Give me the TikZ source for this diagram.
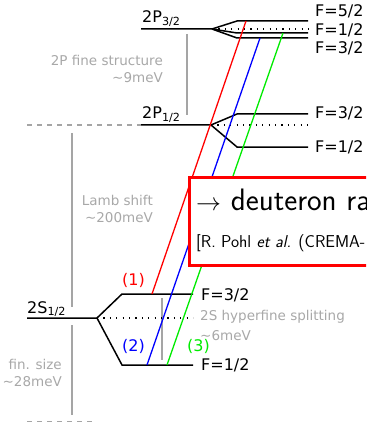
\documentclass[tikz,border=0pt]{standalone}
\usepackage{fontspec}
\setmainfont{DejaVu Sans}
\definecolor{lbl}{RGB}{168,168,168}
\definecolor{gline}{RGB}{165,165,165}
\definecolor{tgreen}{RGB}{0,235,0}
\tikzset{
  levelline/.style={line width=1.5pt, black},
  hfsdots/.style={line width=1.2pt, black, dash pattern=on 1.2pt off 5.2pt},
  trans/.style={line width=1.3pt},
  glab/.style={text=lbl, font=\fontsize{13.5}{16}\selectfont, inner sep=0pt},
  flab/.style={font=\fontsize{16}{19}\selectfont, inner sep=0pt},
  gvert/.style={gline, line width=1.2pt},
  gdash/.style={gline, line width=1.2pt, dash pattern=on 5pt off 5pt}
}
\begin{document}
\begin{tikzpicture}[x=1pt,y=-1pt]
\clip (0,0) rectangle (366,422);
% --- coordinates: 2P3/2
\coordinate (A0) at (141,29);  \coordinate (A1) at (212,29);
\coordinate (A52l) at (237,21); \coordinate (A52r) at (308,21);
\coordinate (A12l) at (237,33); \coordinate (A12r) at (308,33);
\coordinate (A32l) at (237,38); \coordinate (A32r) at (308,38);
\coordinate (Ad) at (310,29);
% 2P1/2
\coordinate (B0) at (141,125); \coordinate (B1) at (211,125);
\coordinate (B32l) at (237,114); \coordinate (B32r) at (308,114);
\coordinate (B12l) at (237,147); \coordinate (B12r) at (308,147);
\coordinate (Bd) at (310,125);
% 2S1/2
\coordinate (C0) at (27,318); \coordinate (C1) at (97,318);
\coordinate (C32l) at (122,294); \coordinate (C32r) at (193,294);
\coordinate (C12l) at (122,365); \coordinate (C12r) at (193,365);
\coordinate (Cd) at (193,318);
% transitions
\coordinate (r0) at (152,294); \coordinate (r1) at (246,21);
\coordinate (b0) at (147,365); \coordinate (b1) at (260,38);
\coordinate (g0) at (167,365); \coordinate (g1) at (283,33);
% gray guides
\coordinate (fs0) at (187,34);  \coordinate (fs1) at (187,115);
\coordinate (ls0) at (72,133);  \coordinate (ls1) at (72,307);
\coordinate (fz0) at (72,325);  \coordinate (fz1) at (72,415);
\coordinate (hf0) at (162,298); \coordinate (hf1) at (162,360);
\coordinate (d0) at (27,125);
\coordinate (e0) at (27,421.5); \coordinate (e1) at (93,421.5);

% gray guides
\draw[gvert] (fs0) -- (fs1);
\draw[gvert] (ls0) -- (ls1);
\draw[gvert] (fz0) -- (fz1);
\draw[gvert] (hf0) -- (hf1);
\draw[gdash] (d0) -- (B0);
\draw[gdash] (e0) -- (e1);

% levels
\draw[levelline] (A0) -- (A1) -- (A52l) -- (A52r);
\draw[levelline] (A1) -- (A12l) -- (A12r);
\draw[levelline] (A1) -- (A32l) -- (A32r);
\draw[hfsdots] (A1) -- (Ad);

\draw[levelline] (B0) -- (B1) -- (B32l) -- (B32r);
\draw[levelline] (B1) -- (B12l) -- (B12r);
\draw[hfsdots] (B1) -- (Bd);

\draw[levelline] (C0) -- (C1) -- (C32l) -- (C32r);
\draw[levelline] (C1) -- (C12l) -- (C12r);
\draw[hfsdots] (C1) -- (Cd);

% transitions
\draw[trans, red] (r0) -- (r1);
\draw[trans, blue] (b0) -- (b1);
\draw[trans, tgreen] (g0) -- (g1);

% level labels
\node[flab, anchor=base west] (lA) at (142,23) {2P\textsubscript{3/2}};
\node[flab, anchor=base west] (lB) at (142,119) {2P\textsubscript{1/2}};
\node[flab, anchor=base west] (lC) at (27,313) {2S\textsubscript{1/2}};

\node[flab, anchor=base west] (fA52) at (315,17) {F=5/2};
\node[flab, anchor=base west] (fA12) at (315,36) {F=1/2};
\node[flab, anchor=base west] (fA32) at (315,54) {F=3/2};
\node[flab, anchor=base west] (fB32) at (315,119) {F=3/2};
\node[flab, anchor=base west] (fB12) at (315,152) {F=1/2};
\node[flab, anchor=base west] (fC32) at (201,300) {F=3/2};
\node[flab, anchor=base west] (fC12) at (201,370) {F=1/2};

% gray labels
\node[glab, anchor=base east] (gfs1) at (163,66) {2P fine structure};
\node[glab, anchor=base east] (gfs2) at (163,83) {\textasciitilde9meV};
\node[glab, anchor=base east] (gls1) at (153,205) {Lamb shift};
\node[glab, anchor=base east] (gls2) at (153,222) {\textasciitilde200meV};
\node[glab, anchor=base east] (gfz1) at (62,369) {fin. size};
\node[glab, anchor=base east] (gfz2) at (62,386) {\textasciitilde28meV};
\node[glab, anchor=base west] (ghf1) at (200,320) {2S hyperfine splitting};
\node[glab, anchor=base west] (ghf2) at (200,340) {\textasciitilde6meV};

% transition labels
\node[flab, text=red, anchor=base west] (t1) at (122,285) {(1)};
\node[flab, text=blue, anchor=base west] (t2) at (122,351) {(2)};
\node[flab, text=tgreen, anchor=base west] (t3) at (187,351) {(3)};

% result box
\node[draw=red, fill=white, line width=3pt, anchor=north west, inner sep=0pt,
      minimum width=200pt, minimum height=87.5pt] (box) at (187.5,176) {};
\node[inner sep=0pt, anchor=base west, font=\sffamily\fontsize{31}{36}\selectfont] (res) at (196,210) {$\rightarrow$ deuteron ra};
\node[inner sep=0pt, anchor=base west, font=\sffamily\fontsize{17.2}{20}\selectfont] (ref) at (196,247) {[R. Pohl \textit{et~al.} (CREMA-};
\end{tikzpicture}
\end{document}
